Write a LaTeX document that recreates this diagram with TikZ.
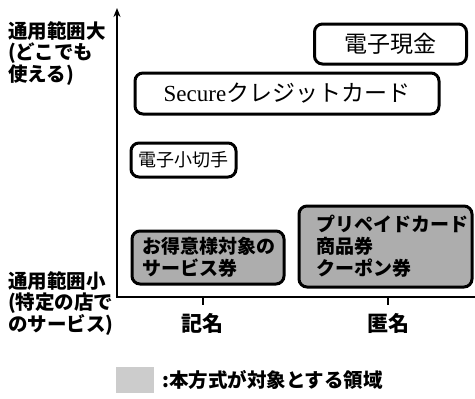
\documentclass[tikz,border=0pt]{standalone}
\usepackage{fontspec}
\setmainfont{Noto Sans CJK JP}
\newfontfamily\lat{Liberation Serif}
\usetikzlibrary{arrows.meta}
\tikzset{
  box/.style={draw, line width=3pt, rounded corners=8pt, inner sep=0pt},
  shaded/.style={fill=black!32},
  axis/.style={line width=2.8pt},
  lbl/.style={inner sep=0pt, font=\fontsize{19.5}{21.5}\selectfont\bfseries, align=left, anchor=north west},
  axlbl/.style={inner sep=0pt, font=\fontsize{21}{24}\selectfont\bfseries},
  btxt/.style={inner sep=0pt, font=\fontsize{19}{22}\selectfont\bfseries, align=left, anchor=west}
}
\begin{document}
\begin{tikzpicture}[x=1pt,y=-1pt]
\useasboundingbox (0,0) rectangle (475,399);
% axes
\coordinate (o) at (117,297);
\coordinate (ytop) at (117,8);
\coordinate (xend) at (475,297);
\coordinate (t1a) at (203,297);
\coordinate (t1b) at (203,305);
\coordinate (t2a) at (388,297);
\coordinate (t2b) at (388,305);
\draw[axis, {Stealth[length=9pt,width=7pt]}-] (ytop) -- (o) -- (xend);
\draw[axis] (t1a) -- (t1b);
\draw[axis] (t2a) -- (t2b);
\node[axlbl] (kimei) at (202,323) {記名};
\node[axlbl] (tokumei) at (388,323) {匿名};
% left labels
\node[lbl] (big) at (8,21) {通用範囲大\\(どこでも\\使える)};
\node[lbl] (small) at (8,271) {通用範囲小\\(特定の店で\\のサービス)};
% boxes
\node[box, minimum width=152pt, minimum height=40pt,
      font=\fontsize{23}{26}\selectfont] (cash) at (390.5,44) {電子現金};
\node[box, minimum width=304pt, minimum height=41pt,
      font=\fontsize{23}{26}\selectfont] (secure) at (287,93.5) {{\lat Secure}クレジットカード};
\node[box, minimum width=105pt, minimum height=34pt,
      font=\fontsize{18}{22}\selectfont] (check) at (183.5,160) {電子小切手};
\node[box, shaded, minimum width=152pt, minimum height=53pt] (tokui) at (208,257.5) {};
\node[box, shaded, minimum width=173pt, minimum height=81pt] (prepaid) at (385.5,246.5) {};
\node[btxt] (tokuit) at (142,257) {お得意様対象の\\サービス券};
\node[btxt] (prepaidt) at (316,246) {プリペイドカード\\商品券\\クーポン券};
% legend
\node[fill=black!20, minimum width=38pt, minimum height=26pt, inner sep=0pt] (swatch) at (135,380) {};
\node[btxt, font=\fontsize{19.5}{22}\selectfont\bfseries] (legend) at (162,380) {:本方式が対象とする領域};
\end{tikzpicture}
\end{document}
